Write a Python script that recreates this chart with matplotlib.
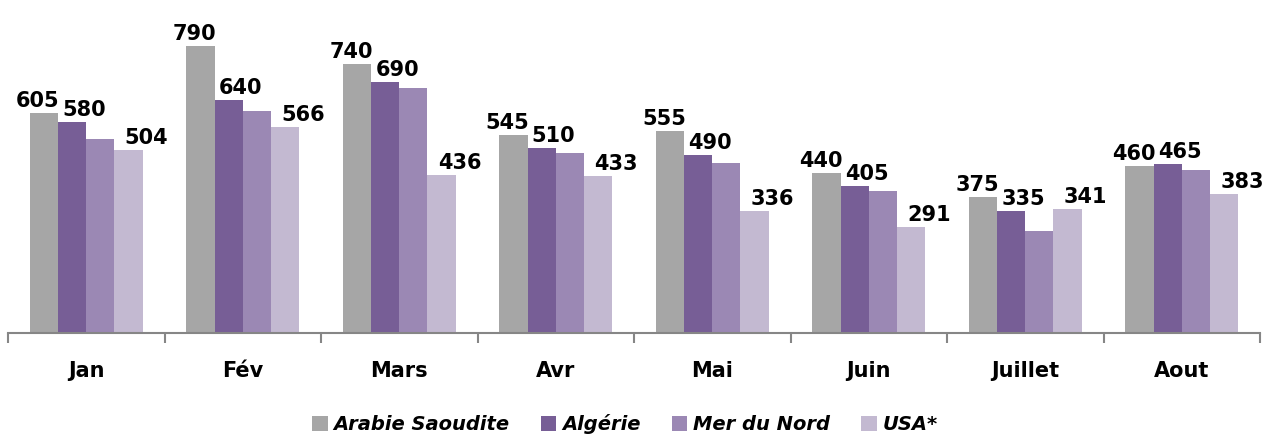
import matplotlib
matplotlib.use('Agg')
import matplotlib.pyplot as plt
import numpy as np

# data
months = ['Jan', 'Fév', 'Mars', 'Avr', 'Mai', 'Juin', 'Juillet', 'Aout']
series_names = ['Arabie Saoudite', 'Algérie', 'Mer du Nord', 'USA*']
arabie = [605, 790, 740, 545, 555, 440, 375, 460]
algerie = [580, 640, 690, 510, 490, 405, 335, 465]
mer_du_nord = [533, 610, 675, 495, 468, 390, 280, 450]
usa = [504, 566, 436, 433, 336, 291, 341, 383]

colors = ['#A6A6A6', '#775E96', '#9B88B4', '#C3B9D1']
# only these series carry value labels in the original
labelled = [True, True, False, True]
# horizontal label shift in pixels, per series
label_dx = [-6, 12, 0, 18]

values = [arabie, algerie, mer_du_nord, usa]

fig = plt.figure(figsize=(12.77, 4.34), dpi=100)
ax = fig.add_axes([8 / 1277, 1 - 333 / 434, 1252 / 1277, 327 / 434])

x = np.arange(len(months))
w = 0.18
for i, (name, vals) in enumerate(zip(series_names, values)):
    pos = x + (i - 1.5) * w
    ax.bar(pos, vals, width=w, color=colors[i], label=name, linewidth=0)
    if labelled[i]:
        for px, v in zip(pos, vals):
            ax.annotate(str(v), (px, v), xytext=(label_dx[i] * 0.72, 1.5),
                        textcoords='offset points', ha='center', va='bottom',
                        fontsize=15, fontweight='bold', color='black')

ax.set_xlim(-0.5, len(months) - 0.5)
ax.set_ylim(0, 900)

for side in ['top', 'right', 'left']:
    ax.spines[side].set_visible(False)
ax.spines['bottom'].set_color('#868686')
ax.spines['bottom'].set_linewidth(1.5)
ax.set_yticks([])

ax.set_xticks(x)
ax.set_xticklabels(months, fontsize=15, fontweight='bold')
ax.tick_params(axis='x', which='major', length=0, pad=20)
ax.set_xticks(np.arange(-0.5, len(months)), minor=True)
ax.tick_params(axis='x', which='minor', length=7.2, width=1.5, color='#868686', direction='out')

leg = fig.legend(loc='center', bbox_to_anchor=(625 / 1277, 1 - 424 / 434), ncol=4,
                 frameon=False, handlelength=0.8, handleheight=0.8, handletextpad=0.3,
                 columnspacing=1.6, prop={'size': 14, 'weight': 'bold', 'style': 'italic'})

fig.savefig('out.png', dpi=100)
